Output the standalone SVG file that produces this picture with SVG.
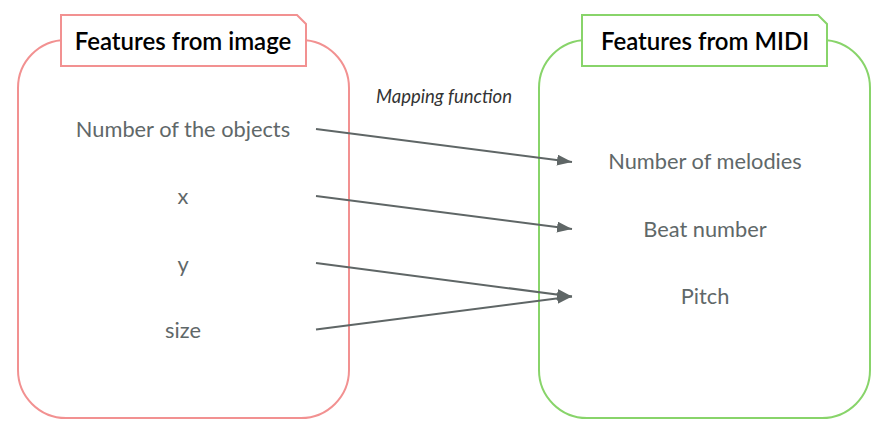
<svg xmlns="http://www.w3.org/2000/svg" width="886" height="432" viewBox="0 0 886 432">
<style>
.frame{fill:#fff;stroke-width:2}
.red{stroke:#f29191}
.green{stroke:#88d46a}
.title{font-family:Lato,"Liberation Sans",sans-serif;font-size:24px;font-weight:600;fill:#000;text-anchor:middle}
.item{font-family:Lato,"Liberation Sans",sans-serif;font-size:21.8px;fill:#5f6869;text-anchor:middle}
.lbl{font-family:Lato,"Liberation Sans",sans-serif;font-size:18.5px;font-style:italic;fill:#333;text-anchor:middle}
.conn{stroke:#5f6666;stroke-width:2;fill:none;marker-end:url(#ah)}
</style>
<defs>
<marker id="ah" markerUnits="userSpaceOnUse" markerWidth="16" markerHeight="12" refX="15" refY="5.5" orient="auto">
<path d="M0,0 L15,5.5 L0,11 Z" fill="#5f6666"/>
</marker>
</defs>
<g id="node-image">
<rect class="frame red" x="18" y="40" width="331" height="378" rx="48" ry="48"/>
<path class="frame red" d="M61,15 H297 L306,24 V66 H61 Z"/>
<text class="title" x="183" y="49.5">Features from image</text>
<text class="item" x="183" y="137">Number of the objects</text>
<text class="item" x="183" y="204">x</text>
<text class="item" x="183" y="272">y</text>
<text class="item" x="183" y="338">size</text>
</g>
<g id="node-midi">
<rect class="frame green" x="539" y="40" width="331" height="378" rx="48" ry="48"/>
<path class="frame green" d="M582,15 H818 L827,24 V66 H582 Z"/>
<text class="title" x="705" y="49.5">Features from MIDI</text>
<text class="item" x="705" y="169">Number of melodies</text>
<text class="item" x="705" y="237">Beat number</text>
<text class="item" x="705" y="304">Pitch</text>
</g>
<g id="connectors">
<text class="lbl" x="444" y="103">Mapping function</text>
<line class="conn" x1="316" y1="129" x2="572" y2="162"/>
<line class="conn" x1="316" y1="196" x2="572" y2="229"/>
<line class="conn" x1="316" y1="263" x2="572" y2="296.5"/>
<line class="conn" x1="316" y1="329.5" x2="572" y2="296.5"/>
</g>
</svg>
